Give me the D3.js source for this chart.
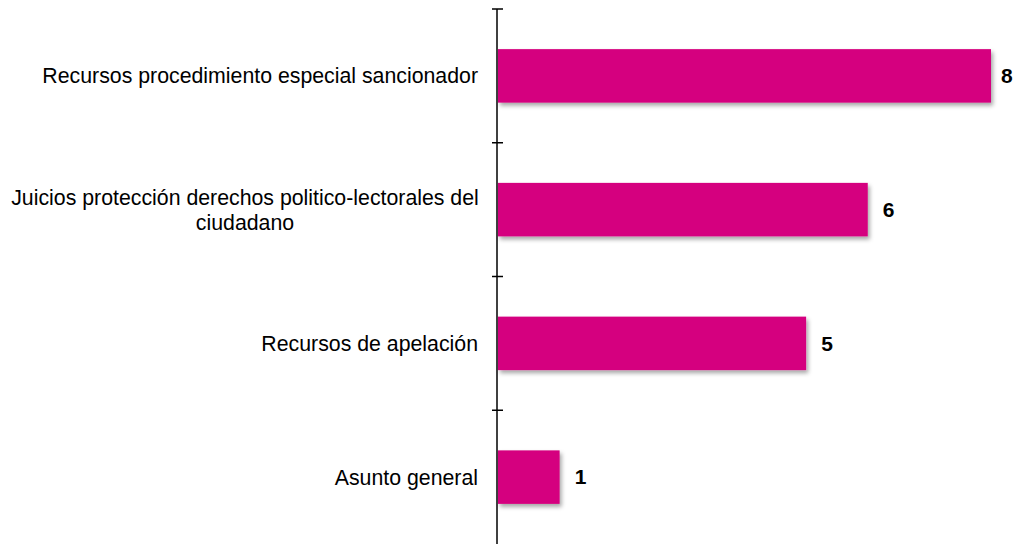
<!DOCTYPE html>
<html><head><meta charset="utf-8">
<script src="https://cdn.jsdelivr.net/npm/d3@7"></script>
<style>body{margin:0;background:#fff}svg{display:block}</style>
</head><body>
<script>
const categories = [
  ["Recursos procedimiento especial sancionador"],
  ["Juicios protección derechos politico-lectorales del", "ciudadano"],
  ["Recursos de apelación"],
  ["Asunto general"]
];
const values = [8, 6, 5, 1];

const W = 1018, H = 544;
const svg = d3.select("body").append("svg").attr("width", W).attr("height", H);
const defs = svg.append("defs");
const f = defs.append("filter").attr("id","sh").attr("x","-10%").attr("y","-20%").attr("width","130%").attr("height","160%");
f.append("feDropShadow").attr("dx",2).attr("dy",3).attr("stdDeviation",2).attr("flood-color","#000").attr("flood-opacity",0.35);

const x0 = 498;
const x = d3.scaleLinear().domain([0, 8]).range([x0, 991]);
const idx = d3.range(categories.length);
const y = d3.scaleBand().domain(idx).range([9, 544]).paddingInner(0.6).paddingOuter(0.3);
const yb = d3.scaleBand().domain(idx).range([9, 544]);

svg.append("g").selectAll("rect").data(values).join("rect")
  .attr("x", x0)
  .attr("y", (d,i) => y(i))
  .attr("width", d => x(d) - x0)
  .attr("height", y.bandwidth())
  .attr("fill", "#d5007f")
  .attr("filter", "url(#sh)");

// axis
const ax = svg.append("g");
ax.append("line").attr("x1", x0-1).attr("x2", x0-1).attr("y1", 9).attr("y2", 544).attr("stroke","#000").attr("stroke-width",1.5);
const tickYs = idx.map(i => yb(i));
ax.selectAll(".t").data(tickYs).join("line")
  .attr("x1", x0-6).attr("x2", x0+5).attr("y1", d=>d).attr("y2", d=>d)
  .attr("stroke","#000").attr("stroke-width",1.5);

// category labels
const lab = svg.append("g").attr("font-family","Liberation Sans, Arial, sans-serif").attr("font-size",21.3).attr("fill","#000");
categories.forEach((lines,i) => {
  const cy = y(i) + y.bandwidth()/2;
  const lh = 25;
  const t = lab.append("text").attr("text-anchor", lines.length > 1 ? "middle" : "end");
  lines.forEach((ln,j) => {
    const ty = cy + (j - (lines.length-1)/2)*lh;
    t.append("tspan").attr("x", lines.length > 1 ? 245 : 478).attr("y", ty).attr("dy","0.35em").text(ln);
  });
});

// value labels
svg.append("g").attr("font-family","Liberation Sans, Arial, sans-serif").attr("font-size",21).attr("font-weight","bold")
  .selectAll("text").data(values).join("text")
  .attr("x", d => Math.min(x(d) + 15, 1001))
  .attr("y", (d,i) => y(i) + y.bandwidth()/2)
  .attr("dy","0.35em")
  .text(d => d);
</script>
</body></html>
